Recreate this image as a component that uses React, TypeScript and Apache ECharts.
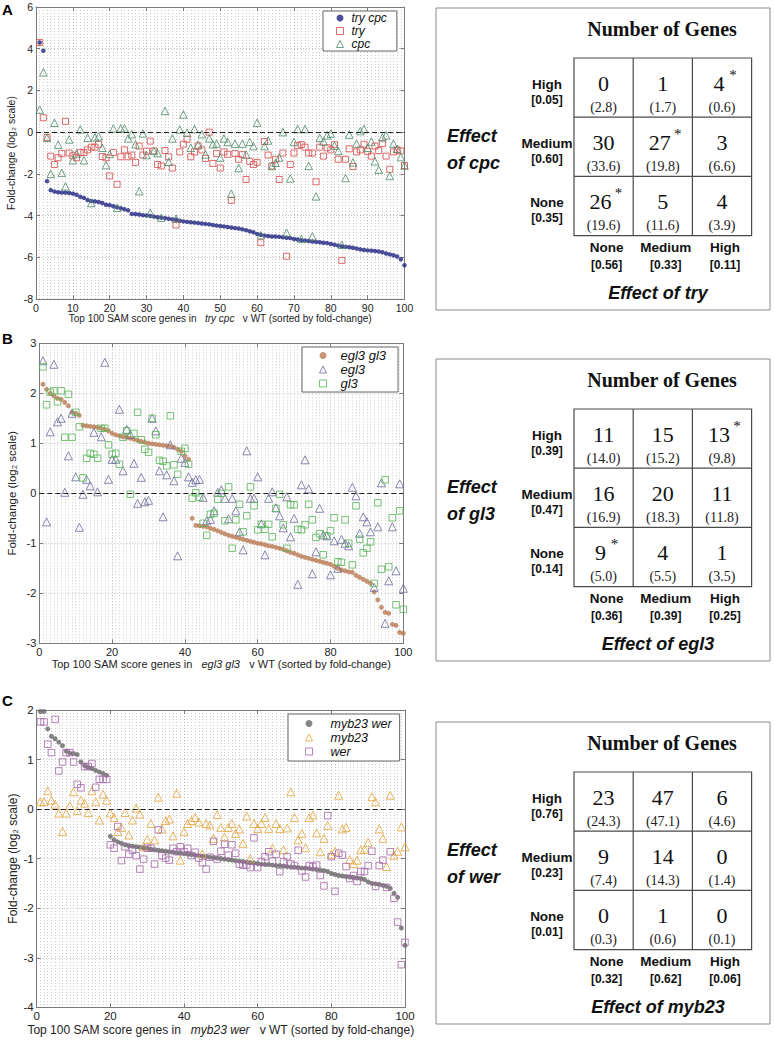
import React, { useEffect, useRef } from "react";
import * as echarts from "echarts";

const SANS = "'Liberation Sans', Arial, Helvetica, sans-serif";
const SERIF = "'Liberation Serif', 'Times New Roman', serif";
const FRAME = "#7a7a7a";

// ---------- Panel A data (try cpc v WT) ----------
const tryCpcA = [
  4.3, 3.9, -2.35, -2.78, -2.85, -2.88, -2.9, -2.9, -2.92, -2.95,
  -3.0, -3.1, -3.15, -3.25, -3.3, -3.32, -3.35, -3.4, -3.48, -3.5,
  -3.55, -3.6, -3.65, -3.7, -3.75, -3.92, -3.93, -3.95, -3.98, -4.0,
  -4.02, -4.05, -4.08, -4.1, -4.12, -4.15, -4.18, -4.2, -4.25, -4.28,
  -4.3, -4.32, -4.34, -4.36, -4.38, -4.4, -4.42, -4.45, -4.48, -4.5,
  -4.52, -4.55, -4.57, -4.6, -4.62, -4.66, -4.7, -4.75, -4.8, -4.88,
  -4.92, -4.96, -4.98, -5.0, -5.0, -5.02, -5.04, -5.06, -5.08, -5.12,
  -5.15, -5.18, -5.2, -5.22, -5.24, -5.26, -5.28, -5.3, -5.32, -5.36,
  -5.4, -5.44, -5.48, -5.5, -5.52, -5.54, -5.58, -5.62, -5.65, -5.67,
  -5.68, -5.7, -5.72, -5.76, -5.82, -5.86, -5.9, -5.96, -6.1, -6.38,
];
const tryA = [
  4.3, 0.69, -0.26, -1.15, -1.55, -1.23, -1.02, 0.52, -1.0, -1.13,
  -1.23, -0.98, -0.98, -0.85, -0.72, -0.72, -0.58, -1.17, -1.23, -2.1,
  -0.98, -2.5, -1.18, -0.85, -1.18, -1.1, -1.45, -0.67, -1.1, -0.91,
  -0.43, -0.9, -1.55, -1.62, -0.88, -1.18, -1.72, -4.45, -0.95, -0.58,
  -0.34, -1.18, -0.95, -0.66, -0.85, -1.26, 0.0, -1.5, -1.02, -1.72,
  -0.95, -1.06, -3.27, -1.02, -1.3, -1.08, -2.27, -1.4, -1.55, -1.45,
  -5.3, -0.45, -1.1, -1.62, -1.3, -2.27, -1.0, -5.95, -1.55, -1.0,
  -0.65, -0.6, -0.72, -1.0, -1.0, -2.38, -0.72, -1.15, -0.75, -0.85,
  -0.6, -1.3, -6.15, -1.3, -0.8, -1.65, -0.95, -0.85, -0.58, -0.92,
  -1.15, -0.67, -0.88, -0.55, -1.15, -1.78, -0.95, -0.85, -0.9, -1.6,
];
const cpcA = [
  1.08, 2.87, -0.27, -2.0, 0.45, -0.6, -1.95, -2.6, -0.35, -1.35,
  -1.02, 0.13, -1.35, -0.27, -3.4, -0.25, -0.2, -0.75, -1.58, -1.05,
  0.18, -3.63, 0.18, 0.18, -0.3, -0.1, -0.58, -2.83, -0.06, -1.1,
  -3.86, -0.9, -1.0, -4.1, 1.02, -1.42, -0.3, -4.15, 0.13, 0.85,
  -0.02, -0.75, 0.15, -0.6, -0.1, -1.07, -0.3, -0.58, -0.55, -1.22,
  -0.3, -0.47, -2.95, -0.55, -1.72, -0.55, -1.07, -0.47, -0.67, 0.45,
  -4.94, -0.67, -0.4, -1.62, -1.47, -1.22, 0.0, -4.82, -2.22, -0.47,
  0.15, -5.12, 0.15, -1.62, -5.0, -3.08, -0.28, -0.45, -0.15, -0.07,
  -0.65, -0.9, -5.4, -2.2, -0.12, -1.45, -0.55, 0.05, 0.15, -0.75,
  -0.45, -1.4, -1.8, -0.25, -0.15, -2.1, -0.55, -0.8, -1.2, -1.6,
];

// ---------- Panel B data (egl3 gl3 v WT) ----------
const egl3gl3B = [
  2.18, 2.08, 2.0, 1.95, 1.9, 1.88, 1.82, 1.75, 1.62, 1.6,
  1.56, 1.36, 1.35, 1.34, 1.33, 1.32, 1.3, 1.28, 1.25, 1.2,
  1.17, 1.15, 1.13, 1.12, 1.1, 1.08, 1.06, 1.04, 1.02, 1.0,
  0.99, 0.98, 0.97, 0.96, 0.95, 0.94, 0.92, 0.88, 0.84, 0.75,
  0.68, -0.5, -0.64, -0.65, -0.66, -0.67, -0.7, -0.72, -0.75, -0.78,
  -0.81, -0.84, -0.86, -0.88, -0.9, -0.92, -0.94, -0.96, -0.98, -1.0,
  -1.01, -1.03, -1.05, -1.06, -1.08, -1.1, -1.12, -1.15, -1.18, -1.2,
  -1.23, -1.26, -1.28, -1.3, -1.32, -1.34, -1.36, -1.38, -1.4, -1.42,
  -1.46, -1.5, -1.53, -1.55, -1.57, -1.58, -1.64, -1.68, -1.72, -1.76,
  -1.8, -1.97, -2.13, -2.28, -2.38, -2.4, -2.62, -2.64, -2.78, -2.8,
];
const egl3B = [
  2.65, -0.57, 1.23, 2.58, 1.43, 1.5, 0.02, 0.75, 1.6, 0.33,
  -0.68, -0.02, 0.28, 0.15, 1.22, 0.03, 1.13, 2.62, 0.28, 0.68,
  0.68, 1.68, 0.45, 1.28, 1.18, 0.6, -0.2, 0.32, -0.17, -0.14,
  1.5, 1.25, 0.45, -0.47, 0.37, 0.97, 0.25, -1.25, 0.7, 0.62,
  0.33, 0.22, 0.27, 0.28, -0.08, -0.55, -0.52, -0.35, 0.02, 0.07,
  -0.1, -0.51, -0.1, -0.35, -0.77, -1.13, 0.85, -0.1, -0.1, 0.33,
  -0.61, -1.23, -0.1, 0.03, -0.29, -0.45, -0.69, -0.07, -0.87, -0.5,
  -1.82, 0.17, 0.67, 0.09, -1.61, -1.17, -0.3, -0.83, -0.85, -1.63,
  -0.95, -1.5, -0.92, -1.0, -1.05, 0.12, -0.05, -0.8, -0.47, -0.57,
  -0.77, -1.88, -0.67, 0.21, -2.6, -1.75, -0.67, -1.55, 0.19, -1.9,
];
const gl3B = [
  2.53, 1.77, 2.02, 2.05, 1.83, 2.05, 1.12, 1.98, 1.12, 1.62,
  1.33, 0.31, 0.7, 0.8, 0.78, 0.7, 1.3, 1.3, 0.97, 0.78,
  0.8, 0.58, 1.12, 1.25, -0.02, 1.2, 1.62, 1.07, 0.88, 0.82,
  1.5, 1.17, 0.66, 0.64, 0.55, 1.55, 0.57, 0.38, 0.84, 0.9,
  0.58, -0.1, 0.01, -0.08, -0.6, -0.84, -0.42, -0.4, -0.12, 0.0,
  -0.55, 0.13, -1.1, -0.53, -0.22, -0.77, -0.45, 0.13, -0.25, -0.73,
  -0.62, -0.72, -0.62, -0.87, -0.3, -0.02, -0.63, -1.1, -0.23, -0.23,
  -0.72, -0.73, -0.63, -0.22, -0.53, -0.88, -0.81, -1.23, -0.85, -0.75,
  -0.49, -1.37, -1.38, -0.53, -1.0, -1.43, -0.25, -0.92, -1.19, -1.1,
  -0.97, -1.8, -0.19, -1.52, 0.27, -1.47, -0.49, -2.23, -0.35, -2.32,
];

// ---------- Panel C data (myb23 wer v WT) ----------
const myb23werC = [
  1.97, 1.97, 1.62, 1.47, 1.42, 1.35, 1.28, 1.17, 1.13, 1.12,
  1.1, 0.95, 0.88, 0.84, 0.82, 0.78, 0.75, 0.72, 0.68, -0.55,
  -0.62, -0.66, -0.69, -0.72, -0.74, -0.75, -0.76, -0.77, -0.78, -0.79,
  -0.81, -0.82, -0.83, -0.84, -0.85, -0.86, -0.87, -0.88, -0.89, -0.9,
  -0.91, -0.92, -0.93, -0.94, -0.95, -0.96, -0.97, -0.98, -0.99, -1.0,
  -1.01, -1.02, -1.03, -1.04, -1.05, -1.06, -1.07, -1.08, -1.09, -1.1,
  -1.11, -1.12, -1.12, -1.13, -1.14, -1.14, -1.15, -1.16, -1.17, -1.17,
  -1.18, -1.19, -1.19, -1.2, -1.21, -1.22, -1.23, -1.24, -1.26, -1.3,
  -1.32, -1.34, -1.35, -1.36, -1.37, -1.38, -1.39, -1.4, -1.42, -1.47,
  -1.5, -1.51, -1.52, -1.54, -1.56, -1.6, -1.7, -1.78, -2.4, -2.75,
];
const myb23C = [
  0.15, 0.15, 0.37, 0.18, 0.1, -0.08, -0.45, -0.08, 0.07, 0.35,
  -0.03, 0.18, 0.12, -0.07, 0.37, 0.15, -0.22, 0.3, 0.18, -0.08,
  -0.17, -0.45, -0.37, -0.07, -0.52, -0.22, 0.02, -0.1, -0.76, -0.61,
  -0.29, -0.62, 0.24, -0.4, -0.23, -0.2, -0.54, 0.32, -1.03, -0.45,
  -0.29, -0.23, -0.17, -0.26, -0.9, -0.29, -0.32, -0.59, -0.11, -0.37,
  -0.56, -0.37, -0.29, -0.49, -0.4, -0.69, -0.14, -1.0, -0.29, -0.39,
  -0.29, -0.17, -0.39, -0.79, -0.29, -0.39, -0.82, -0.38, 0.35, -0.17,
  -0.62, -0.49, -0.78, -0.17, -0.12, -0.48, -0.86, -0.59, -0.33, -0.91,
  -0.85, 0.28, -0.4, -0.37, -1.02, -1.1, -1.03, -0.82, -0.81, -0.67,
  0.25, 0.15, -0.4, -0.59, -1.16, 0.28, -0.93, -0.85, -0.36, -0.76,
];
const werC = [
  1.76, 1.76, 1.31, 1.14, 1.81, 0.77, 0.95, 1.14, 1.14, 0.95,
  0.5, 0.43, 0.86, 0.86, 0.92, 0.44, 0.6, 0.6, 0.6, -0.72,
  -0.79, -0.35, -1.04, -0.76, -0.91, -0.83, -0.94, -1.21, -1.01, -0.79,
  -0.79, -1.11, -0.42, -0.94, -0.99, -1.03, -0.79, -0.86, -0.76, -0.86,
  -0.79, -0.94, -0.87, -0.99, -1.08, -1.21, -0.97, -0.65, -1.01, -0.85,
  -0.71, -0.93, -0.72, -0.89, -1.11, -1.13, -1.13, -1.18, -0.58, -1.18,
  -1.06, -0.96, -0.86, -1.05, -0.91, -1.26, -1.06, -0.96, -1.11, -1.14,
  -0.83, -1.25, -1.37, -1.14, -1.16, -1.13, -1.34, -1.55, -0.13, -0.96,
  -1.66, -0.89, -0.93, -1.16, -1.4, -1.34, -1.46, -1.26, -1.26, -1.14,
  -0.85, -1.56, -1.14, -1.03, -1.58, -0.86, -1.8, -2.28, -3.14, -2.69,
];

// ---------- Contingency tables ----------
const rowLevels = ["High", "Medium", "None"];
const colLevels = ["None", "Medium", "High"];

const countsA = [[0, 1, 4], [30, 27, 3], [26, 5, 4]];
const expectedA = [[2.8, 1.7, 0.6], [33.6, 19.8, 6.6], [19.6, 11.6, 3.9]];
const starsA = [[0, 0, 1], [0, 1, 0], [1, 0, 0]];
const rowFracA = [0.05, 0.6, 0.35];
const colFracA = [0.56, 0.33, 0.11];

const countsB = [[11, 15, 13], [16, 20, 11], [9, 4, 1]];
const expectedB = [[14.0, 15.2, 9.8], [16.9, 18.3, 11.8], [5.0, 5.5, 3.5]];
const starsB = [[0, 0, 1], [0, 0, 0], [1, 0, 0]];
const rowFracB = [0.39, 0.47, 0.14];
const colFracB = [0.36, 0.39, 0.25];

const countsC = [[23, 47, 6], [9, 14, 0], [0, 1, 0]];
const expectedC = [[24.3, 47.1, 4.6], [7.4, 14.3, 1.4], [0.3, 0.6, 0.1]];
const starsC = [[0, 0, 0], [0, 0, 0], [0, 0, 0]];
const rowFracC = [0.76, 0.23, 0.01];
const colFracC = [0.32, 0.62, 0.06];

// ---------- helpers ----------
function txt(text: string, x: number, y: number, font: string, align = "center", vAlign = "middle", fill = "#111") {
  return {
    type: "text",
    silent: true,
    z: 20,
    style: { text, x, y, font, fill, textAlign: align, textVerticalAlign: vAlign, align, verticalAlign: vAlign },
  };
}

function tableGraphic(top: number, counts: number[][], expected: number[][], stars: number[][],
  rowFrac: number[], colFrac: number[], rowGene: string, colGene: string) {
  const els: any[] = [];
  els.push({ type: "rect", silent: true, z: 10, shape: { x: 436, y: top, width: 334, height: 302 },
    style: { fill: "#fff", stroke: "#8c8c8c", lineWidth: 1 } });
  els.push(txt("Number of Genes", 662, top + 21, `bold 20px ${SERIF}`));
  const gl = 574, gt = top + 50, cs = 59.2;
  els.push({ type: "rect", silent: true, z: 15, shape: { x: gl, y: gt, width: cs * 3, height: cs * 3 },
    style: { fill: "none", stroke: "#4a4a4a", lineWidth: 1.2 } });
  for (let i = 1; i < 3; i++) {
    els.push({ type: "line", silent: true, z: 15, shape: { x1: gl + i * cs, y1: gt, x2: gl + i * cs, y2: gt + 3 * cs },
      style: { stroke: "#4a4a4a", lineWidth: 1.2 } });
    els.push({ type: "line", silent: true, z: 15, shape: { x1: gl, y1: gt + i * cs, x2: gl + 3 * cs, y2: gt + i * cs },
      style: { stroke: "#4a4a4a", lineWidth: 1.2 } });
  }
  for (let r = 0; r < 3; r++) {
    for (let c = 0; c < 3; c++) {
      const cx = gl + c * cs + cs / 2;
      const cy = gt + r * cs;
      const n = String(counts[r][c]);
      const shift = stars[r][c] ? -3 : 0;
      els.push(txt(n, cx + shift, cy + 25, `22px ${SERIF}`));
      els.push(txt(`(${expected[r][c].toFixed(1)})`, cx, cy + 49, `14px ${SERIF}`, "center", "middle", "#222"));
      if (stars[r][c]) {
        els.push(txt("*", cx + shift + (n.length > 1 ? 18 : 14), cy + 17, `15px ${SERIF}`));
      }
    }
    els.push(txt(rowLevels[r], 547, gt + r * cs + 26, `bold 13.5px ${SANS}`));
    els.push(txt(`[${rowFrac[r].toFixed(2)}]`, 547, gt + r * cs + 42, `bold 12px ${SANS}`));
  }
  for (let c = 0; c < 3; c++) {
    const cx = gl + c * cs + cs / 2 + 3;
    els.push(txt(colLevels[c], cx, gt + 3 * cs + 12, `bold 13.5px ${SANS}`));
    els.push(txt(`[${colFrac[c].toFixed(2)}]`, cx, gt + 3 * cs + 29, `bold 12px ${SANS}`));
  }
  els.push(txt("Effect", 447, top + 128, `italic bold 18px ${SANS}`, "left"));
  els.push(txt(`of ${rowGene}`, 447, top + 155, `italic bold 18px ${SANS}`, "left"));
  els.push(txt(`Effect of ${colGene}`, 658, top + 285, `italic bold 18px ${SANS}`));
  return els;
}

function xAxes(gi: number, interval: number, fs: number, nameFs: number, gene: string, nameGap: number) {
  const common = { type: "value", gridIndex: gi, min: 0, max: 100, interval };
  return [
    {
      ...common,
      position: "bottom",
      axisLine: { show: true, onZero: false, lineStyle: { color: FRAME, width: 1 } },
      axisTick: { show: true, inside: true, length: 4, lineStyle: { color: FRAME } },
      axisLabel: { show: true, fontSize: fs, color: "#222", fontFamily: SANS, margin: 3 },
      splitLine: { show: true, lineStyle: { color: "#b4b4b4", type: [1, 2], width: 1 } },
      minorTick: { show: false, splitNumber: interval },
      minorSplitLine: { show: true, lineStyle: { color: "#cdcdcd", type: [1, 2], width: 1 } },
      name: `Top 100 SAM score genes in   {i|${gene}}   v WT (sorted by fold-change)`,
      nameLocation: "middle",
      nameGap,
      nameTextStyle: {
        fontSize: nameFs, color: "#222", fontFamily: SANS,
        rich: { i: { fontStyle: "italic", fontSize: nameFs, color: "#222", fontFamily: SANS } },
      },
    },
    {
      ...common,
      position: "top",
      axisLine: { show: true, onZero: false, lineStyle: { color: FRAME, width: 1 } },
      axisTick: { show: true, inside: true, length: 4, lineStyle: { color: FRAME } },
      axisLabel: { show: false },
      splitLine: { show: false },
    },
  ];
}

function yAxes(gi: number, min: number, max: number, interval: number, fs: number, nameFs: number, nameGap: number) {
  const common = { type: "value", gridIndex: gi, min, max, interval };
  return [
    {
      ...common,
      position: "left",
      axisLine: { show: true, onZero: false, lineStyle: { color: FRAME, width: 1 } },
      axisTick: { show: true, inside: true, length: 4, lineStyle: { color: FRAME } },
      axisLabel: { show: true, fontSize: fs, color: "#222", fontFamily: SANS, margin: 3 },
      splitLine: { show: true, lineStyle: { color: "#c0c0c0", type: [1, 2], width: 1 } },
      name: "Fold-change (log\u2082 scale)",
      nameLocation: "middle",
      nameGap,
      nameTextStyle: { fontSize: nameFs, color: "#222", fontFamily: SANS },
    },
    {
      ...common,
      position: "right",
      axisLine: { show: true, onZero: false, lineStyle: { color: FRAME, width: 1 } },
      axisTick: { show: true, inside: true, length: 4, lineStyle: { color: FRAME } },
      axisLabel: { show: false },
      splitLine: { show: false },
    },
  ];
}

function scatter(name: string, values: number[], gi: number, symbol: string, size: number, color: string, hollow: boolean, zeroLine = false) {
  const s: any = {
    type: "scatter",
    name,
    xAxisIndex: gi * 2,
    yAxisIndex: gi * 2,
    data: values.map((v, i) => [i + 1, v]),
    symbol,
    symbolSize: size,
    silent: true,
    itemStyle: hollow
      ? { color: "rgba(255,255,255,0)", borderColor: color, borderWidth: 1 }
      : { color },
  };
  if (zeroLine) {
    s.markLine = {
      silent: true,
      symbol: ["none", "none"],
      label: { show: false },
      lineStyle: { color: "#222", type: [5, 3], width: 1.1 },
      data: [{ yAxis: 0 }],
    };
  }
  return s;
}

function legendItem(name: string, icon: string, color: string, hollow: boolean) {
  return {
    name,
    icon,
    itemStyle: hollow ? { color: "rgba(255,255,255,0)", borderColor: color, borderWidth: 1 } : { color, borderWidth: 0 },
  };
}

function legend(left: number, top: number, fs: number, padding: number[], textPad: number, data: any[]) {
  return {
    orient: "vertical",
    left,
    top,
    itemWidth: 7,
    itemHeight: 7,
    itemGap: 1,
    padding,
    backgroundColor: "#fff",
    borderColor: "#666",
    borderWidth: 1,
    selectedMode: false,
    textStyle: { fontStyle: "italic", fontSize: fs, color: "#111", fontFamily: SANS, lineHeight: 12, padding: [0, 0, 0, textPad] },
    data,
    z: 12,
  };
}

const COL = {
  tryCpc: "#1f2380", tryA: "#d84848", cpcA: "#4e8a68",
  egl3gl3: "#b97a52", egl3: "#6b6c9e", gl3: "#58b558",
  myb23wer: "#666666", myb23: "#e3a23a", wer: "#a466a8",
};

export default function App() {
  const ref = useRef<HTMLDivElement>(null);
  useEffect(() => {
    if (!ref.current) return;
    const chart = echarts.init(ref.current, undefined, { renderer: "svg" });
    const option: any = {
      animation: false,
      backgroundColor: "#fff",
      grid: [
        { left: 36, top: 7, width: 368.5, height: 292, outerBoundsMode: "none", containLabel: false },
        { left: 39.3, top: 343.3, width: 364, height: 300, outerBoundsMode: "none", containLabel: false },
        { left: 36.7, top: 710, width: 368.3, height: 297.3, outerBoundsMode: "none", containLabel: false },
      ],
      xAxis: [
        ...xAxes(0, 10, 10.5, 10, "try cpc", 11),
        ...xAxes(1, 20, 11, 11, "egl3 gl3", 13),
        ...xAxes(2, 20, 11.5, 12, "myb23 wer", 17),
      ],
      yAxis: [
        ...yAxes(0, -8, 6, 2, 10.5, 10.5, 20),
        ...yAxes(1, -3, 3, 1, 11, 11.5, 21),
        ...yAxes(2, -4, 2, 1, 11.5, 12, 18),
      ],
      legend: [
        legend(323, 11, 12, [1, 10, 1, 13], 3, [
          legendItem("try cpc", "circle", COL.tryCpc, false),
          legendItem("try", "rect", COL.tryA, true),
          legendItem("cpc", "triangle", COL.cpcA, true),
        ]),
        legend(302, 347, 13, [2, 12, 2, 17], 9, [
          legendItem("egl3 gl3", "circle", COL.egl3gl3, false),
          legendItem("egl3", "triangle", COL.egl3, true),
          legendItem("gl3", "rect", COL.gl3, true),
        ]),
        legend(288, 714, 12.5, [3, 8, 3, 17], 13, [
          legendItem("myb23 wer", "circle", COL.myb23wer, false),
          legendItem("myb23", "triangle", COL.myb23, true),
          legendItem("wer", "rect", COL.wer, true),
        ]),
      ],
      series: [
        scatter("try cpc", tryCpcA, 0, "circle", 4.5, COL.tryCpc, false, true),
        scatter("try", tryA, 0, "rect", 6, COL.tryA, true),
        scatter("cpc", cpcA, 0, "triangle", 7.5, COL.cpcA, true),
        scatter("egl3 gl3", egl3gl3B, 1, "circle", 5, COL.egl3gl3, false, true),
        scatter("egl3", egl3B, 1, "triangle", 8, COL.egl3, true),
        scatter("gl3", gl3B, 1, "rect", 6.5, COL.gl3, true),
        scatter("myb23 wer", myb23werC, 2, "circle", 5, COL.myb23wer, false, true),
        scatter("myb23", myb23C, 2, "triangle", 8, COL.myb23, true),
        scatter("wer", werC, 2, "rect", 6.5, COL.wer, true),
      ],
      graphic: [
        txt("A", 2, 2, `bold 15px ${SANS}`, "left", "top", "#000"),
        txt("B", 2, 331, `bold 15px ${SANS}`, "left", "top", "#000"),
        txt("C", 2, 693, `bold 15px ${SANS}`, "left", "top", "#000"),
        ...tableGraphic(8, countsA, expectedA, starsA, rowFracA, colFracA, "cpc", "try"),
        ...tableGraphic(359, countsB, expectedB, starsB, rowFracB, colFracB, "gl3", "egl3"),
        ...tableGraphic(722, countsC, expectedC, starsC, rowFracC, colFracC, "wer", "myb23"),
      ],
    };
    chart.setOption(option);
    return () => chart.dispose();
  }, []);
  return (
    <div
      ref={ref}
      style={{ position: "fixed", left: 0, top: 0, width: 774, height: 1040, background: "#fff" }}
    />
  );
}
